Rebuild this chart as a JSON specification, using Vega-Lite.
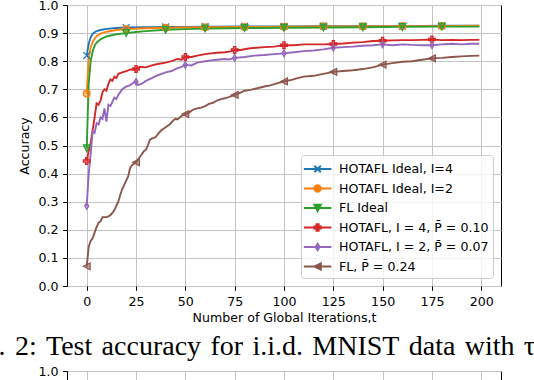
{
  "$schema": "https://vega.github.io/schema/vega-lite/v6.json",
  "autosize": {"type": "none"},
  "padding": {"left": 67, "top": 5, "right": 467, "bottom": 375},
  "background": "white",
  "bounds": "flush",
  "spacing": 85,
  "data": {"values": [
    {"s":"A","t":0,"v":0.82},{"s":"A","t":1,"v":0.862},{"s":"A","t":2,"v":0.885},{"s":"A","t":3,"v":0.897},{"s":"A","t":4,"v":0.903},{"s":"A","t":5,"v":0.907},{"s":"A","t":7,"v":0.911},{"s":"A","t":10,"v":0.915},{"s":"A","t":15,"v":0.918},{"s":"A","t":20,"v":0.92},{"s":"A","t":30,"v":0.921},{"s":"A","t":40,"v":0.922},{"s":"A","t":50,"v":0.922},{"s":"A","t":60,"v":0.923},{"s":"A","t":80,"v":0.924},{"s":"A","t":100,"v":0.924},{"s":"A","t":120,"v":0.925},{"s":"A","t":140,"v":0.925},{"s":"A","t":160,"v":0.925},{"s":"A","t":180,"v":0.926},{"s":"A","t":199,"v":0.926},
    {"s":"B","t":0,"v":0.685},{"s":"B","t":1,"v":0.81},{"s":"B","t":2,"v":0.85},{"s":"B","t":3,"v":0.868},{"s":"B","t":4,"v":0.881},{"s":"B","t":5,"v":0.889},{"s":"B","t":7,"v":0.898},{"s":"B","t":10,"v":0.905},{"s":"B","t":15,"v":0.911},{"s":"B","t":20,"v":0.914},{"s":"B","t":30,"v":0.917},{"s":"B","t":40,"v":0.919},{"s":"B","t":50,"v":0.92},{"s":"B","t":60,"v":0.921},{"s":"B","t":80,"v":0.922},{"s":"B","t":100,"v":0.923},{"s":"B","t":120,"v":0.924},{"s":"B","t":140,"v":0.924},{"s":"B","t":160,"v":0.925},{"s":"B","t":180,"v":0.925},{"s":"B","t":199,"v":0.926},
    {"s":"C","t":0,"v":0.49},{"s":"C","t":1,"v":0.72},{"s":"C","t":2,"v":0.8},{"s":"C","t":3,"v":0.835},{"s":"C","t":4,"v":0.855},{"s":"C","t":5,"v":0.866},{"s":"C","t":7,"v":0.878},{"s":"C","t":10,"v":0.888},{"s":"C","t":15,"v":0.896},{"s":"C","t":20,"v":0.9},{"s":"C","t":25,"v":0.904},{"s":"C","t":30,"v":0.907},{"s":"C","t":40,"v":0.912},{"s":"C","t":50,"v":0.914},{"s":"C","t":60,"v":0.916},{"s":"C","t":80,"v":0.918},{"s":"C","t":100,"v":0.919},{"s":"C","t":120,"v":0.92},{"s":"C","t":140,"v":0.921},{"s":"C","t":160,"v":0.922},{"s":"C","t":180,"v":0.923},{"s":"C","t":199,"v":0.923},
    {"s":"D","t":0,"v":0.445},{"s":"D","t":1,"v":0.48},{"s":"D","t":2,"v":0.51},{"s":"D","t":3,"v":0.555},{"s":"D","t":4,"v":0.6},{"s":"D","t":5,"v":0.65},{"s":"D","t":6,"v":0.645},{"s":"D","t":7,"v":0.66},{"s":"D","t":8,"v":0.69},{"s":"D","t":9,"v":0.7},{"s":"D","t":10,"v":0.695},{"s":"D","t":11,"v":0.72},{"s":"D","t":12,"v":0.735},{"s":"D","t":13,"v":0.73},{"s":"D","t":14,"v":0.745},{"s":"D","t":15,"v":0.74},{"s":"D","t":16,"v":0.755},{"s":"D","t":18,"v":0.76},{"s":"D","t":20,"v":0.765},{"s":"D","t":22,"v":0.77},{"s":"D","t":24,"v":0.772},{"s":"D","t":25,"v":0.772},{"s":"D","t":27,"v":0.78},{"s":"D","t":30,"v":0.778},{"s":"D","t":33,"v":0.785},{"s":"D","t":36,"v":0.79},{"s":"D","t":40,"v":0.795},{"s":"D","t":43,"v":0.8},{"s":"D","t":46,"v":0.808},{"s":"D","t":48,"v":0.805},{"s":"D","t":50,"v":0.815},{"s":"D","t":53,"v":0.815},{"s":"D","t":56,"v":0.82},{"s":"D","t":60,"v":0.825},{"s":"D","t":63,"v":0.828},{"s":"D","t":66,"v":0.83},{"s":"D","t":70,"v":0.832},{"s":"D","t":73,"v":0.835},{"s":"D","t":75,"v":0.84},{"s":"D","t":78,"v":0.84},{"s":"D","t":82,"v":0.845},{"s":"D","t":86,"v":0.848},{"s":"D","t":90,"v":0.85},{"s":"D","t":95,"v":0.852},{"s":"D","t":100,"v":0.857},{"s":"D","t":105,"v":0.857},{"s":"D","t":110,"v":0.86},{"s":"D","t":115,"v":0.86},{"s":"D","t":120,"v":0.86},{"s":"D","t":125,"v":0.861},{"s":"D","t":130,"v":0.863},{"s":"D","t":135,"v":0.866},{"s":"D","t":140,"v":0.868},{"s":"D","t":145,"v":0.872},{"s":"D","t":150,"v":0.873},{"s":"D","t":155,"v":0.874},{"s":"D","t":160,"v":0.875},{"s":"D","t":165,"v":0.875},{"s":"D","t":170,"v":0.876},{"s":"D","t":175,"v":0.877},{"s":"D","t":180,"v":0.875},{"s":"D","t":185,"v":0.876},{"s":"D","t":190,"v":0.875},{"s":"D","t":195,"v":0.876},{"s":"D","t":199,"v":0.876},
    {"s":"E","t":0,"v":0.285},{"s":"E","t":1,"v":0.4},{"s":"E","t":2,"v":0.47},{"s":"E","t":3,"v":0.55},{"s":"E","t":4,"v":0.545},{"s":"E","t":5,"v":0.58},{"s":"E","t":6,"v":0.575},{"s":"E","t":7,"v":0.6},{"s":"E","t":8,"v":0.595},{"s":"E","t":9,"v":0.632},{"s":"E","t":10,"v":0.585},{"s":"E","t":11,"v":0.645},{"s":"E","t":12,"v":0.64},{"s":"E","t":13,"v":0.655},{"s":"E","t":14,"v":0.67},{"s":"E","t":15,"v":0.665},{"s":"E","t":16,"v":0.68},{"s":"E","t":17,"v":0.69},{"s":"E","t":18,"v":0.7},{"s":"E","t":19,"v":0.705},{"s":"E","t":20,"v":0.71},{"s":"E","t":22,"v":0.715},{"s":"E","t":24,"v":0.725},{"s":"E","t":25,"v":0.727},{"s":"E","t":26,"v":0.715},{"s":"E","t":28,"v":0.72},{"s":"E","t":30,"v":0.73},{"s":"E","t":33,"v":0.74},{"s":"E","t":36,"v":0.75},{"s":"E","t":38,"v":0.755},{"s":"E","t":40,"v":0.76},{"s":"E","t":43,"v":0.765},{"s":"E","t":46,"v":0.775},{"s":"E","t":48,"v":0.78},{"s":"E","t":50,"v":0.787},{"s":"E","t":53,"v":0.785},{"s":"E","t":56,"v":0.795},{"s":"E","t":60,"v":0.8},{"s":"E","t":63,"v":0.803},{"s":"E","t":66,"v":0.805},{"s":"E","t":70,"v":0.808},{"s":"E","t":72,"v":0.806},{"s":"E","t":75,"v":0.812},{"s":"E","t":80,"v":0.815},{"s":"E","t":85,"v":0.82},{"s":"E","t":90,"v":0.822},{"s":"E","t":95,"v":0.825},{"s":"E","t":100,"v":0.828},{"s":"E","t":105,"v":0.832},{"s":"E","t":110,"v":0.836},{"s":"E","t":115,"v":0.838},{"s":"E","t":120,"v":0.842},{"s":"E","t":125,"v":0.848},{"s":"E","t":130,"v":0.85},{"s":"E","t":135,"v":0.852},{"s":"E","t":140,"v":0.855},{"s":"E","t":145,"v":0.857},{"s":"E","t":150,"v":0.86},{"s":"E","t":155,"v":0.857},{"s":"E","t":160,"v":0.86},{"s":"E","t":165,"v":0.858},{"s":"E","t":170,"v":0.857},{"s":"E","t":175,"v":0.857},{"s":"E","t":180,"v":0.86},{"s":"E","t":185,"v":0.862},{"s":"E","t":190,"v":0.86},{"s":"E","t":195,"v":0.862},{"s":"E","t":199,"v":0.862},
    {"s":"F","t":0,"v":0.07},{"s":"F","t":1,"v":0.14},{"s":"F","t":2,"v":0.16},{"s":"F","t":3,"v":0.17},{"s":"F","t":4,"v":0.19},{"s":"F","t":5,"v":0.21},{"s":"F","t":6,"v":0.225},{"s":"F","t":7,"v":0.23},{"s":"F","t":8,"v":0.245},{"s":"F","t":9,"v":0.245},{"s":"F","t":10,"v":0.245},{"s":"F","t":11,"v":0.248},{"s":"F","t":12,"v":0.252},{"s":"F","t":13,"v":0.26},{"s":"F","t":14,"v":0.27},{"s":"F","t":15,"v":0.285},{"s":"F","t":16,"v":0.3},{"s":"F","t":17,"v":0.325},{"s":"F","t":18,"v":0.345},{"s":"F","t":19,"v":0.36},{"s":"F","t":20,"v":0.375},{"s":"F","t":21,"v":0.39},{"s":"F","t":22,"v":0.42},{"s":"F","t":23,"v":0.43},{"s":"F","t":24,"v":0.435},{"s":"F","t":25,"v":0.44},{"s":"F","t":26,"v":0.45},{"s":"F","t":27,"v":0.46},{"s":"F","t":28,"v":0.47},{"s":"F","t":29,"v":0.48},{"s":"F","t":30,"v":0.485},{"s":"F","t":31,"v":0.5},{"s":"F","t":32,"v":0.52},{"s":"F","t":33,"v":0.525},{"s":"F","t":34,"v":0.527},{"s":"F","t":35,"v":0.53},{"s":"F","t":36,"v":0.54},{"s":"F","t":37,"v":0.548},{"s":"F","t":38,"v":0.555},{"s":"F","t":40,"v":0.565},{"s":"F","t":42,"v":0.575},{"s":"F","t":44,"v":0.59},{"s":"F","t":45,"v":0.595},{"s":"F","t":46,"v":0.593},{"s":"F","t":48,"v":0.605},{"s":"F","t":50,"v":0.612},{"s":"F","t":52,"v":0.618},{"s":"F","t":54,"v":0.628},{"s":"F","t":56,"v":0.632},{"s":"F","t":58,"v":0.635},{"s":"F","t":60,"v":0.64},{"s":"F","t":62,"v":0.648},{"s":"F","t":64,"v":0.652},{"s":"F","t":66,"v":0.66},{"s":"F","t":68,"v":0.665},{"s":"F","t":70,"v":0.668},{"s":"F","t":72,"v":0.672},{"s":"F","t":75,"v":0.68},{"s":"F","t":78,"v":0.688},{"s":"F","t":80,"v":0.695},{"s":"F","t":83,"v":0.698},{"s":"F","t":86,"v":0.703},{"s":"F","t":90,"v":0.71},{"s":"F","t":93,"v":0.714},{"s":"F","t":96,"v":0.72},{"s":"F","t":100,"v":0.728},{"s":"F","t":103,"v":0.732},{"s":"F","t":106,"v":0.738},{"s":"F","t":110,"v":0.745},{"s":"F","t":115,"v":0.748},{"s":"F","t":120,"v":0.755},{"s":"F","t":125,"v":0.762},{"s":"F","t":130,"v":0.765},{"s":"F","t":135,"v":0.768},{"s":"F","t":140,"v":0.772},{"s":"F","t":145,"v":0.778},{"s":"F","t":150,"v":0.788},{"s":"F","t":155,"v":0.793},{"s":"F","t":160,"v":0.798},{"s":"F","t":165,"v":0.8},{"s":"F","t":170,"v":0.805},{"s":"F","t":175,"v":0.81},{"s":"F","t":180,"v":0.812},{"s":"F","t":185,"v":0.815},{"s":"F","t":190,"v":0.817},{"s":"F","t":195,"v":0.819},{"s":"F","t":199,"v":0.82}
  ]},
  "config": {
    "view": {"stroke": "#000000", "strokeWidth": 1},
    "axis": {
      "domain": false, "grid": true, "gridColor": "#c4c4c4", "gridWidth": 1,
      "ticks": true, "tickColor": "#000000", "tickSize": 4.4, "tickWidth": 1,
      "labelFont": "DejaVu Sans", "labelFontSize": 12.6, "labelColor": "#000000",
      "labelFlush": false, "labelOverlap": false,
      "titleFont": "DejaVu Sans", "titleFontSize": 12.6, "titleFontWeight": "normal", "titleColor": "#000000"
    },
    "axisX": {"labelPadding": 5, "titlePadding": 3},
    "axisY": {"labelPadding": 4.6, "titlePadding": 6}
  },
  "vconcat": [
    {
      "width": 434,
      "height": 281,
      "title": {
        "text": "Fig.\u20042:\u2004Test\u2004accuracy\u2004for\u2004i.i.d.\u2004MNIST\u2004data\u2004with\u2004τ",
        "orient": "bottom", "anchor": "start", "frame": "group",
        "dx": -105.8, "offset": 31, "baseline": "alphabetic",
        "font": "Liberation Serif", "fontSize": 28, "fontWeight": "normal", "color": "#000000"
      },
      "encoding": {
        "x": {"field": "t", "type": "quantitative", "scale": {"domain": [-10, 210], "nice": false, "zero": false},
              "axis": {"values": [0, 25, 50, 75, 100, 125, 150, 175, 200], "title": "Number of Global Iterations,t"}},
        "y": {"field": "v", "type": "quantitative", "scale": {"domain": [0, 1], "nice": false},
              "axis": {"values": [0, 0.1, 0.2, 0.3, 0.4, 0.5, 0.6, 0.7, 0.8, 0.9, 1.0], "format": ".1f", "title": "Accuracy"}}
      },
      "layer": [
        {
          "mark": {"type": "line", "strokeWidth": 1.9},
          "encoding": {
            "color": {"field": "s", "type": "nominal",
              "scale": {"domain": ["A","B","C","D","E","F"], "range": ["#1f77b4","#ff7f0e","#2ca02c","#d62728","#9467bd","#8c564b"]},
              "legend": null}
          }
        },
        {
          "transform": [{"filter": "(indexof('ABC', datum.s) >= 0 && datum.t % 20 == 0) || (indexof('ABC', datum.s) < 0 && datum.t % 25 == 0)"}],
          "mark": {"type": "point", "filled": true, "opacity": 1, "fillOpacity": 0.55, "strokeWidth": 1.2, "size": 46},
          "encoding": {
            "color": {"field": "s", "type": "nominal",
              "scale": {"domain": ["A","B","C","D","E","F"], "range": ["#1f77b4","#ff7f0e","#2ca02c","#d62728","#9467bd","#8c564b"]},
              "legend": null},
            "stroke": {"field": "s", "type": "nominal",
              "scale": {"domain": ["A","B","C","D","E","F"], "range": ["#1f77b4","#ff7f0e","#2ca02c","#d62728","#9467bd","#8c564b"]},
              "legend": null},
            "shape": {"field": "s", "type": "nominal",
              "scale": {"domain": ["A","B","C","D","E","F"], "range": [
                "M-1,-1L1,1M-1,1L1,-1",
                "M-1,0A1,1 0 1,0 1,0A1,1 0 1,0 -1,0Z",
                "M-1,-1L1,-1L0,1Z",
                "M-0.33,-1H0.33V-0.33H1V0.33H0.33V1H-0.33V0.33H-1V-0.33H-0.33Z",
                "M0,-1L0.6,0L0,1L-0.6,0Z",
                "M-1,0L1,-1L1,1Z"]},
              "legend": null}
          }
        },
        {
          "transform": [{"filter": "datum.t > 1000"}],
          "mark": {"type": "point", "filled": true, "opacity": 1, "strokeWidth": 1.9, "size": 324},
          "encoding": {
            "color": {"field": "s", "type": "nominal",
              "scale": {"domain": ["A","B","C","D","E","F"], "range": ["#1f77b4","#ff7f0e","#2ca02c","#d62728","#9467bd","#8c564b"]},
              "legend": {
                "title": null, "orient": "bottom-right", "offset": 8, "padding": 4, "rowPadding": 1.5,
                "symbolSize": 324, "symbolStrokeWidth": 1.9, "labelOffset": 14,
                "labelFont": "DejaVu Sans", "labelFontSize": 12.6, "labelColor": "#000000", "labelLimit": 0,
                "strokeColor": "#cccccc", "fillColor": "rgba(255,255,255,0.8)", "cornerRadius": 3,
                "labelExpr": "{'A': 'HOTAFL Ideal, I=4', 'B': 'HOTAFL Ideal, I=2', 'C': 'FL Ideal', 'D': 'HOTAFL, I = 4, P\u0304 = 0.10', 'E': 'HOTAFL, I = 2, P\u0304 = 0.07', 'F': 'FL, P\u0304 = 0.24'}[datum.label]"
              }},
            "stroke": {"field": "s", "type": "nominal",
              "scale": {"domain": ["A","B","C","D","E","F"], "range": ["#1f77b4","#ff7f0e","#2ca02c","#d62728","#9467bd","#8c564b"]}},
            "shape": {"field": "s", "type": "nominal",
              "scale": {"domain": ["A","B","C","D","E","F"], "range": [
                "M-1.24,0H1.82M-0.07,-0.36L0.65,0.36M-0.07,0.36L0.65,-0.36",
                "M-1.24,0H1.82M-0.07,0A0.36,0.36 0 1,0 0.65,0A0.36,0.36 0 1,0 -0.07,0Z",
                "M-1.24,0H1.82M-0.07,-0.36L0.65,-0.36L0.29,0.36Z",
                "M-1.24,0H1.82M0.17,-0.36H0.41V-0.12H0.65V0.12H0.41V0.36H0.17V0.12H-0.07V-0.12H0.17Z",
                "M-1.24,0H1.82M0.29,-0.36L0.51,0L0.29,0.36L0.07,0Z",
                "M-1.24,0H1.82M-0.07,0L0.65,-0.36L0.65,0.36Z"]}}
          }
        }
      ],
      "resolve": {"scale": {"color": "independent", "stroke": "independent", "shape": "independent"}}
    },
    {
      "width": 434,
      "height": 281,
      "transform": [{"filter": "datum.t > 1000"}],
      "mark": {"type": "line", "strokeWidth": 1.9},
      "encoding": {
        "x": {"field": "t", "type": "quantitative", "scale": {"domain": [-10, 210], "nice": false, "zero": false},
              "axis": {"values": [0, 25, 50, 75, 100, 125, 150, 175, 200], "title": "Number of Global Iterations,t"}},
        "y": {"field": "v", "type": "quantitative", "scale": {"domain": [0, 1], "nice": false},
              "axis": {"values": [0, 0.1, 0.2, 0.3, 0.4, 0.5, 0.6, 0.7, 0.8, 0.9, 1.0], "format": ".1f", "title": "Accuracy"}}
      }
    }
  ]
}
